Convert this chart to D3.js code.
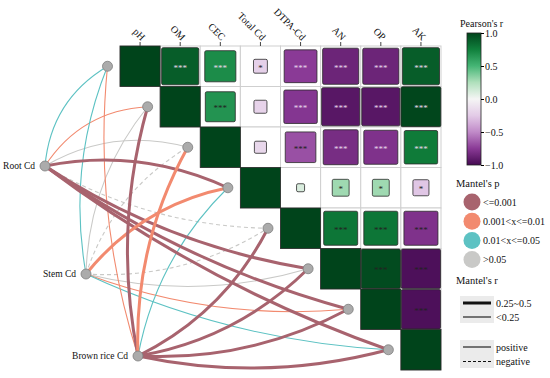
<!DOCTYPE html>
<html>
<head>
<meta charset="utf-8">
<script src="https://cdn.jsdelivr.net/npm/d3@7"></script>
<style>
  body { margin: 0; background: #fff; }
  text { font-family: "Liberation Serif", "Times New Roman", serif; fill: #111; }
</style>
</head>
<body>
<svg id="chart" width="550" height="378"></svg>
<script>
const vars = ["pH", "OM", "CEC", "Total Cd", "DTPA-Cd", "AN", "OP", "AK"];

// upper triangle of Pearson's r, row i holds columns i+1 .. end
const corrR = [
  [0.895, 0.695, -0.22, -0.75, -0.86, -0.86, 0.895],
  [0.66, -0.2, -0.77, -0.93, -0.93, 0.99],
  [-0.18, -0.68, -0.82, -0.79, 0.77],
  [0.1, 0.29, 0.29, -0.27],
  [0.79, 0.79, -0.79],
  [0.97, -0.97],
  [-0.97]
];
const corrSig = [
  ["***", "***", "*", "***", "***", "***", "***"],
  ["***", "", "***", "***", "***", "***"],
  ["", "***", "***", "***", "***"],
  ["", "*", "*", "*"],
  ["***", "***", "***"],
  ["***", "***"],
  ["***"]
];

const sources = ["Root Cd", "Stem Cd", "Brown rice Cd"];
// mantel p class (0: <=0.001, 1: 0.001-0.01, 2: 0.01-0.05, 3: >0.05), one per var
const mantelP = [
  [2, 1, 3, 0, 3, 0, 0, 0],
  [2, 3, 3, 1, 3, 3, 1, 2],
  [1, 0, 1, 2, 0, 0, 0, 0]
];
// mantel r class (1: 0.25~0.5, 0: <0.25)
const mantelR = [
  [0, 0, 0, 1, 0, 1, 1, 1],
  [0, 0, 0, 1, 0, 0, 0, 0],
  [0, 1, 1, 0, 1, 1, 1, 1]
];
const mantelSign = [
  [1, 1, 1, 1, -1, 1, 1, 1],
  [1, 1, -1, 1, -1, 1, 1, 1],
  [1, 1, 1, 1, 1, 1, 1, 1]
];

const pLabels = ["<=0.001", "0.001<x<=0.01", "0.01<x<=0.05", ">0.05"];
const rLabels = ["0.25~0.5", "<0.25"];
const signLabels = ["positive", "negative"];
const colorTicks = [1, 0.5, 0, -0.5, -1];

const pColors = ["#a8636e", "#f28a6f", "#5dc2c3", "#c9c9c7"];

const svg = d3.select("#chart");

const x = d3.scaleBand().domain(vars).range([120, 441]);
const y = d3.scaleBand().domain(vars).range([46, 370]);
const cw = x.bandwidth(), ch = y.bandwidth();

const color = d3.scaleLinear()
  .domain([-1, -0.75, -0.5, -0.25, 0, 0.25, 0.5, 0.75, 1])
  .range(["#450a52", "#8a3a96", "#c08ac8", "#e3cbe7", "#f5f5f5", "#b0e0bc", "#45b575", "#10803c", "#00441b"]);

// ---- links (drawn first, under nodes)
const srcPos = { "Root Cd": [45, 166], "Stem Cd": [86, 274], "Brown rice Cd": [138, 356] };
const nodePos = v => [x(v) - 12.5, y(v) + ch / 2];

const links = [];
sources.forEach((s, si) => {
  vars.forEach((v, vi) => {
    links.push({ s, v, vi, p: mantelP[si][vi], r: mantelR[si][vi], sign: mantelSign[si][vi] });
  });
});

function curve(d) {
  const [x0, y0] = srcPos[d.s];
  const [x1, y1] = nodePos(d.v);
  const dx = x1 - x0, dy = y1 - y0, L = Math.hypot(dx, dy);
  // upper half targets bend to the left, lower half to the right
  const side = d.vi < vars.length / 2 ? 1 : -1;
  const off = 30 * side;
  const cx = (x0 + x1) / 2 + (dy / L) * off;
  const cy = (y0 + y1) / 2 - (dx / L) * off;
  return `M${x0},${y0}Q${cx},${cy} ${x1},${y1}`;
}

svg.append("g").selectAll("path")
  .data(links.sort((a, b) => a.r - b.r))
  .enter().append("path")
  .attr("d", curve)
  .attr("fill", "none")
  .attr("stroke", d => pColors[d.p])
  .attr("stroke-width", d => d.r ? 3 : 1.1)
  .attr("stroke-dasharray", d => d.sign < 0 ? "4,3" : null);

// ---- correlation matrix
const g = svg.append("g");
const cells = [];
vars.forEach((rv, i) => {
  vars.forEach((cv, j) => {
    if (j < i) return;
    const r = i === j ? 1 : corrR[i][j - i - 1];
    const sig = i === j ? "" : corrSig[i][j - i - 1];
    cells.push({ i, j, rv, cv, r, sig });
  });
});

g.selectAll("rect.grid")
  .data(cells)
  .enter().append("rect")
  .attr("class", "grid")
  .attr("x", d => x(d.cv))
  .attr("y", d => y(d.rv))
  .attr("width", cw)
  .attr("height", ch)
  .attr("fill", "#fff")
  .attr("stroke", "#cfcfcf")
  .attr("stroke-width", 1);

g.selectAll("rect.sq")
  .data(cells)
  .enter().append("rect")
  .attr("class", "sq")
  .each(function (d) {
    const full = d.i === d.j;
    const sw = full ? cw : Math.pow(Math.abs(d.r), 0.7) * cw;
    const sh = full ? ch : Math.pow(Math.abs(d.r), 0.7) * cw;
    d3.select(this)
      .attr("x", x(d.cv) + (cw - sw) / 2)
      .attr("y", y(d.rv) + (ch - sh) / 2)
      .attr("width", sw)
      .attr("height", sh)
      .attr("rx", full ? 0 : 1.5);
  })
  .attr("fill", d => color(d.r))
  .attr("stroke", "#2a2a2a")
  .attr("stroke-width", 0.8);

g.selectAll("text.sig")
  .data(cells.filter(d => d.sig))
  .enter().append("text")
  .attr("class", "sig")
  .attr("x", d => x(d.cv) + cw / 2)
  .attr("y", d => y(d.rv) + ch / 2 + 4.5)
  .attr("text-anchor", "middle")
  .style("font-size", "9px")
  .style("fill", d => (d.i < 3 && Math.abs(d.r) > 0.685) ? "#e8d8ec" : "#222")
  .text(d => d.sig);

// column ticks + labels
const header = svg.append("g");
header.selectAll("line")
  .data(vars)
  .enter().append("line")
  .attr("x1", d => x(d) + cw / 2).attr("x2", d => x(d) + cw / 2)
  .attr("y1", 42).attr("y2", 46)
  .attr("stroke", "#444");
header.selectAll("text")
  .data(vars)
  .enter().append("text")
  .attr("transform", d => `translate(${x(d) + cw / 2 + 1},41) rotate(45)`)
  .attr("text-anchor", "end")
  .style("font-size", "10px")
  .text(d => d);

// ---- nodes
svg.append("g").selectAll("circle")
  .data(vars)
  .enter().append("circle")
  .attr("cx", d => nodePos(d)[0])
  .attr("cy", d => nodePos(d)[1])
  .attr("r", 5)
  .attr("fill", "#ababab")
  .attr("stroke", "#7d7d7d")
  .attr("stroke-width", 0.8);

const src = svg.append("g").selectAll("g")
  .data(sources)
  .enter().append("g")
  .attr("transform", d => `translate(${srcPos[d][0]},${srcPos[d][1]})`);
src.append("circle")
  .attr("r", 5)
  .attr("fill", "#ababab")
  .attr("stroke", "#7d7d7d")
  .attr("stroke-width", 0.8);
src.append("text")
  .attr("x", -10)
  .attr("dy", "0.35em")
  .attr("text-anchor", "end")
  .style("font-size", "9.5px")
  .text(d => d);

// ---- colour bar
const cb = d3.scaleLinear().domain([1, -1]).range([33, 165]);
const grad = svg.append("defs").append("linearGradient")
  .attr("id", "cbar").attr("x1", 0).attr("x2", 0).attr("y1", 0).attr("y2", 1);
d3.range(1, -1.001, -0.125).forEach(v => {
  grad.append("stop").attr("offset", (1 - v) / 2).attr("stop-color", color(v));
});
svg.append("rect")
  .attr("x", 467).attr("y", cb(1))
  .attr("width", 14).attr("height", cb(-1) - cb(1))
  .attr("fill", "url(#cbar)")
  .attr("stroke", "#222").attr("stroke-width", 0.8);
const cbAxis = svg.append("g")
  .attr("transform", "translate(481,0)")
  .call(d3.axisRight(cb).tickValues(colorTicks).tickSize(3).tickPadding(1));
cbAxis.select(".domain").remove();
cbAxis.selectAll("text").style("font-family", "Liberation Serif").style("font-size", "10px").attr("fill", "#111");
svg.append("text").attr("x", 460).attr("y", 27).style("font-size", "10px").text("Pearson's r");

// ---- mantel legends
svg.append("text").attr("x", 456).attr("y", 187).style("font-size", "10.5px").text("Mantel's p");
const pl = svg.append("g").selectAll("g")
  .data(pLabels)
  .enter().append("g")
  .attr("transform", (d, i) => `translate(472,${202 + i * 19.2})`);
pl.append("circle").attr("r", 8.5).attr("fill", (d, i) => pColors[i]);
pl.append("text").attr("x", 11).attr("dy", "0.35em").style("font-size", "10px").text(d => d);

svg.append("text").attr("x", 456).attr("y", 284).style("font-size", "10.5px").text("Mantel's r");
svg.append("rect").attr("x", 460).attr("y", 296).attr("width", 34).attr("height", 27).attr("fill", "#ebebeb");
const rl = svg.append("g").selectAll("g")
  .data(rLabels)
  .enter().append("g")
  .attr("transform", (d, i) => `translate(0,${303 + i * 14})`);
rl.append("line").attr("x1", 463).attr("x2", 491)
  .attr("stroke", "#111").attr("stroke-width", (d, i) => i === 0 ? 3 : 1.1);
rl.append("text").attr("x", 496).attr("dy", "0.35em").style("font-size", "10px").text(d => d);

svg.append("rect").attr("x", 460).attr("y", 340).attr("width", 34).attr("height", 28).attr("fill", "#ebebeb");
const sl = svg.append("g").selectAll("g")
  .data(signLabels)
  .enter().append("g")
  .attr("transform", (d, i) => `translate(0,${347 + i * 14.5})`);
sl.append("line").attr("x1", 463).attr("x2", 491)
  .attr("stroke", "#111").attr("stroke-width", 1.1)
  .attr("stroke-dasharray", (d, i) => i === 1 ? "3,2" : null);
sl.append("text").attr("x", 496).attr("dy", "0.35em").style("font-size", "10px").text(d => d);
</script>
</body>
</html>
